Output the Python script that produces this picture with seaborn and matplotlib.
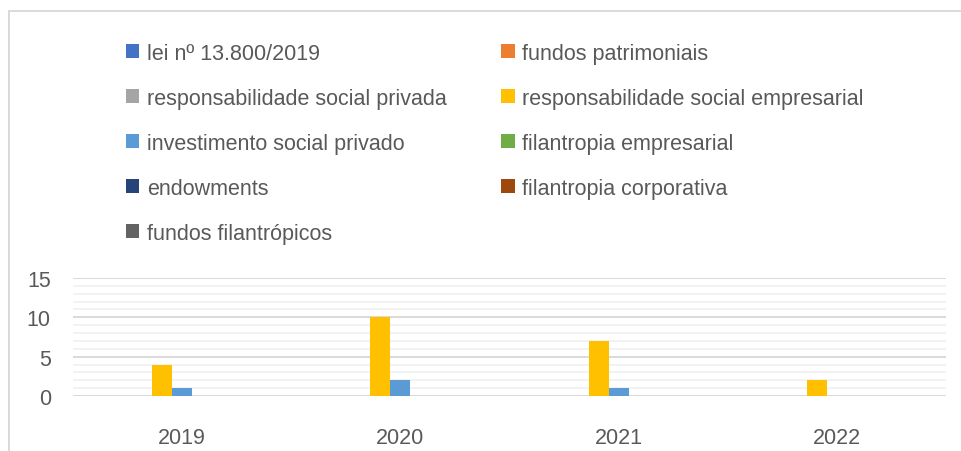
import pandas as pd
import matplotlib.pyplot as plt
import seaborn as sns
from matplotlib.patches import Patch, Rectangle
from matplotlib.ticker import MultipleLocator

# -----------------------------
# Données
# -----------------------------
years = ["2019", "2020", "2021", "2022"]

series_names = [
    "lei nº 13.800/2019",
    "fundos patrimoniais",
    "responsabilidade social privada",
    "responsabilidade social empresarial",
    "investimento social privado",
    "filantropia empresarial",
    "endowments",
    "filantropia corporativa",
    "fundos filantrópicos",
]

lei = [0, 0, 0, 0]
fundos_patrimoniais = [0, 0, 0, 0]
resp_social_privada = [0, 0, 0, 0]
resp_social_empresarial = [4, 10, 7, 2]
investimento_social = [1, 2, 1, 0]
filantropia_empresarial = [0, 0, 0, 0]
endowments = [0, 0, 0, 0]
filantropia_corporativa = [0, 0, 0, 0]
fundos_filantropicos = [0, 0, 0, 0]

colors = ["#4472C4", "#ED7D31", "#A5A5A5", "#FFC000", "#5B9BD5",
          "#70AD47", "#264478", "#9E480E", "#636363"]

all_values = [lei, fundos_patrimoniais, resp_social_privada,
              resp_social_empresarial, investimento_social,
              filantropia_empresarial, endowments,
              filantropia_corporativa, fundos_filantropicos]

rows = []
for name, vals in zip(series_names, all_values):
    for y, v in zip(years, vals):
        rows.append({"ano": y, "serie": name, "valor": v})
df = pd.DataFrame(rows)

# -----------------------------
# Graphique
# -----------------------------
sns.set_style("white")
plt.rcParams["font.family"] = ["Liberation Sans", "DejaVu Sans"]
text_color = "#595959"

fig = plt.figure(figsize=(9.61, 4.52), dpi=100)
ax = fig.add_axes([73 / 961, 1 - 397 / 452, (946 - 73) / 961, (397 - 279) / 452])

sns.barplot(
    data=df, x="ano", y="valor", hue="serie",
    hue_order=series_names, palette=colors, saturation=1,
    width=0.826, gap=0, linewidth=0, legend=False, ax=ax
)

ax.set_ylim(0, 15)
ax.set_xlim(-0.5, 3.5)
ax.yaxis.set_major_locator(MultipleLocator(5))
ax.yaxis.set_minor_locator(MultipleLocator(1))
ax.grid(which="minor", axis="y", color="#F2F2F2", linewidth=1.4)
ax.grid(which="major", axis="y", color="#D9D9D9", linewidth=1.4)
ax.set_axisbelow(True)
for s in ax.spines.values():
    s.set_visible(False)
ax.tick_params(axis="both", which="both", length=0, labelsize=15.5,
               labelcolor=text_color)
ax.tick_params(axis="y", pad=16)
ax.tick_params(axis="x", pad=22)
ax.set_xlabel("")
ax.set_ylabel("")

# légende (ordre ligne par ligne, comme dans Excel)
order = [0, 2, 4, 6, 8, 1, 3, 5, 7]
handles = [Patch(facecolor=colors[i], edgecolor="none") for i in order]
labels = [series_names[i] for i in order]
fig.legend(
    handles, labels, ncol=2, loc="upper left",
    bbox_to_anchor=(126 / 961, 1 - 44 / 452),
    frameon=False, fontsize=15.5, labelcolor=text_color,
    handlelength=0.62, handleheight=0.62, handletextpad=0.35,
    columnspacing=2.54, labelspacing=1.11, borderpad=0, borderaxespad=0
)

# bordure du graphique
fig.patches.append(Rectangle((9 / 961, -0.1), 1.1, 1 - 12 / 452 + 0.1,
                             transform=fig.transFigure, fill=False,
                             edgecolor="#D9D9D9", linewidth=1.4))

fig.savefig("out.png", dpi=100)
plt.close()
